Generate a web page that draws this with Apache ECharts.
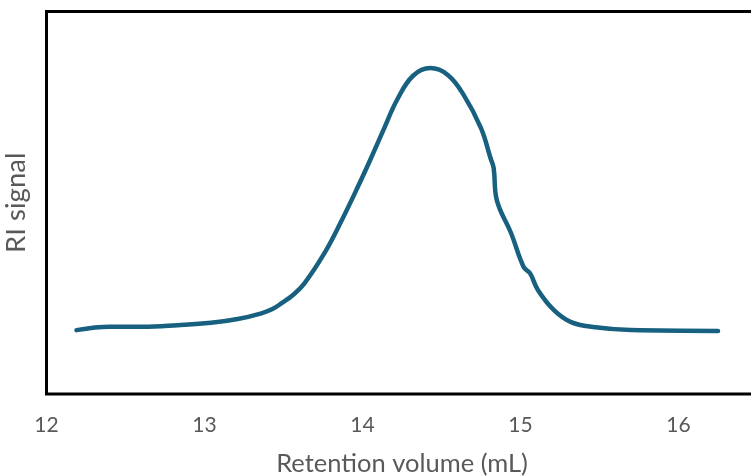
<!DOCTYPE html>
<html>
<head>
<meta charset="utf-8">
<script src="https://cdn.jsdelivr.net/npm/echarts@6/dist/echarts.min.js"></script>
<style>
  html, body { margin: 0; padding: 0; background: #fff; }
  #chart { width: 751px; height: 476px; }
</style>
</head>
<body>
<div id="chart"></div>
<script>
// Retention volume (mL) and refractive-index detector response (arbitrary units)
var retentionVolume = [
  12.19, 12.40, 12.61, 12.83, 13.04, 13.21, 13.36, 13.43, 13.49, 13.56,
  13.63, 13.76, 13.86, 13.97, 14.05, 14.13, 14.22, 14.32, 14.43, 14.54,
  14.64, 14.75, 14.81, 14.83, 14.85, 14.94, 15.02, 15.06, 15.11, 15.21,
  15.32, 15.46, 15.70, 16.25
];
var riSignal = [
  16.7, 17.6, 17.6, 18.0, 18.6, 19.6, 21.1, 22.2, 23.8, 25.9,
  28.8, 36.9, 44.7, 54.1, 61.3, 68.8, 77.0, 83.2, 85.2, 83.4,
  78.2, 69.5, 61.7, 59.1, 50.7, 42.1, 33.2, 31.6, 27.2, 22.0,
  18.8, 17.5, 16.7, 16.5
];
var xTicks = { min: 12, max: 16.5, step: 1 };

var points = retentionVolume.map(function (v, i) { return [v, riSignal[i]]; });
var labelFont = 'Lato, "Open Sans", sans-serif';

var chart = echarts.init(document.getElementById('chart'), null, { renderer: 'canvas' });
chart.setOption({
  animation: false,
  backgroundColor: '#ffffff',
  grid: {
    left: 46.5, top: 11.5, width: 711, height: 382.5,
    containLabel: false,
    outerBoundsMode: 'none',
    show: true, borderColor: '#000000', borderWidth: 3, backgroundColor: 'transparent'
  },
  xAxis: {
    type: 'value',
    min: xTicks.min, max: xTicks.max, interval: xTicks.step,
    name: 'Retention volume (mL)',
    nameLocation: 'middle',
    nameGap: 57,
    nameTextStyle: { color: '#595959', fontSize: 25.5, fontFamily: labelFont },
    axisLine: { show: false },
    axisTick: { show: false },
    splitLine: { show: false },
    axisLabel: {
      color: '#595959', fontSize: 21, fontFamily: labelFont, margin: 21,
      showMaxLabel: false
    }
  },
  yAxis: {
    type: 'value',
    min: 0, max: 100,
    name: 'RI signal',
    nameLocation: 'middle',
    nameGap: 16,
    nameTextStyle: { color: '#595959', fontSize: 27.5, fontFamily: labelFont },
    axisLine: { show: false },
    axisTick: { show: false },
    splitLine: { show: false },
    axisLabel: { show: false }
  },
  series: [{
    type: 'line',
    data: points,
    smooth: 0.4,
    showSymbol: false,
    lineStyle: { color: '#17607f', width: 4.5, cap: 'round', join: 'round' }
  }]
});
</script>
</body>
</html>
